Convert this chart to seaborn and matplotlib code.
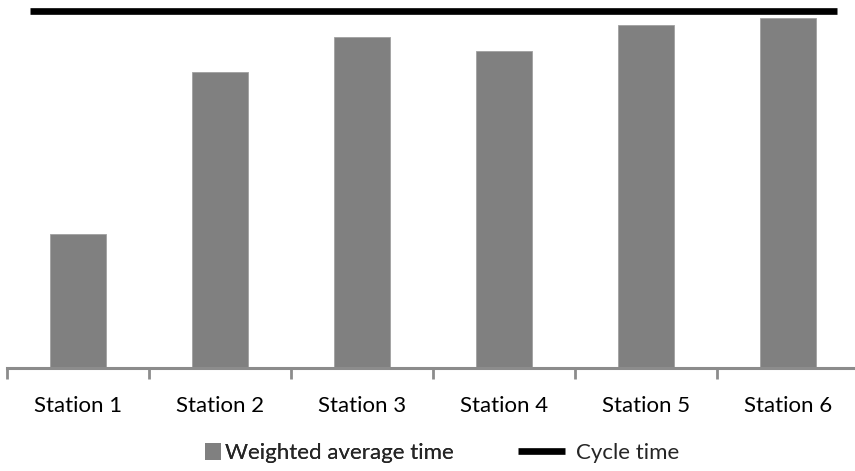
import matplotlib
matplotlib.use("Agg")
import matplotlib.pyplot as plt
import seaborn as sns
import pandas as pd
from matplotlib.patches import Patch
from matplotlib.lines import Line2D

stations = ["Station 1", "Station 2", "Station 3", "Station 4", "Station 5", "Station 6"]
weighted_avg_time = [37.5, 82.9, 92.7, 88.8, 96.1, 98.0]
cycle_time = 100.0

df = pd.DataFrame({"station": stations, "time": weighted_avg_time})

sns.set_theme(style="white")
plt.rcParams["font.family"] = ["Lato", "DejaVu Sans"]

fig = plt.figure(figsize=(8.55, 4.71), dpi=100)
ax = fig.add_axes([7 / 855, (471 - 368) / 471, 852 / 855, 368 / 471])

sns.barplot(data=df, x="station", y="time", color="#808080", saturation=1,
            width=0.4, ax=ax, edgecolor="#a0a0a0", linewidth=0.6)
ax.axhline(cycle_time, xmin=0.027, xmax=0.974, color="black", lw=4.8,
           solid_capstyle="butt")

ax.set_xlim(-0.5, 5.5)
ax.set_ylim(0, 103.1)
ax.set_xlabel("")
ax.set_ylabel("")
ax.set_yticks([])
for s in ["top", "right", "left"]:
    ax.spines[s].set_visible(False)
ax.spines["bottom"].set_color("#8c8c8c")
ax.spines["bottom"].set_linewidth(2.2)

ax.set_xticks(range(len(stations)))
ax.set_xticklabels(stations, fontsize=16, color="black")
ax.tick_params(axis="x", which="major", length=0, pad=20)
ax.set_xticks([i - 0.5 for i in range(len(stations) + 1)], minor=True)
ax.tick_params(axis="x", which="minor", length=8, width=2, color="#8c8c8c",
               bottom=True)

legend_y = 1 - 453 / 471
leg1 = fig.legend([Patch(facecolor="#808080", edgecolor="none")],
                  ["Weighted average time"], loc="center left",
                  bbox_to_anchor=(205 / 855, legend_y), frameon=False,
                  fontsize=16, borderpad=0, borderaxespad=0,
                  handlelength=0.7, handleheight=0.85, handletextpad=0.2)
fig.add_artist(leg1)
fig.legend([Line2D([0], [0], color="black", lw=4.8, solid_capstyle="butt")],
           ["Cycle time"], loc="center left",
           bbox_to_anchor=(518 / 855, legend_y), frameon=False,
           fontsize=16, borderpad=0, borderaxespad=0,
           handlelength=2.1, handletextpad=0.5)

fig.savefig("out.png", dpi=100, facecolor="white")
